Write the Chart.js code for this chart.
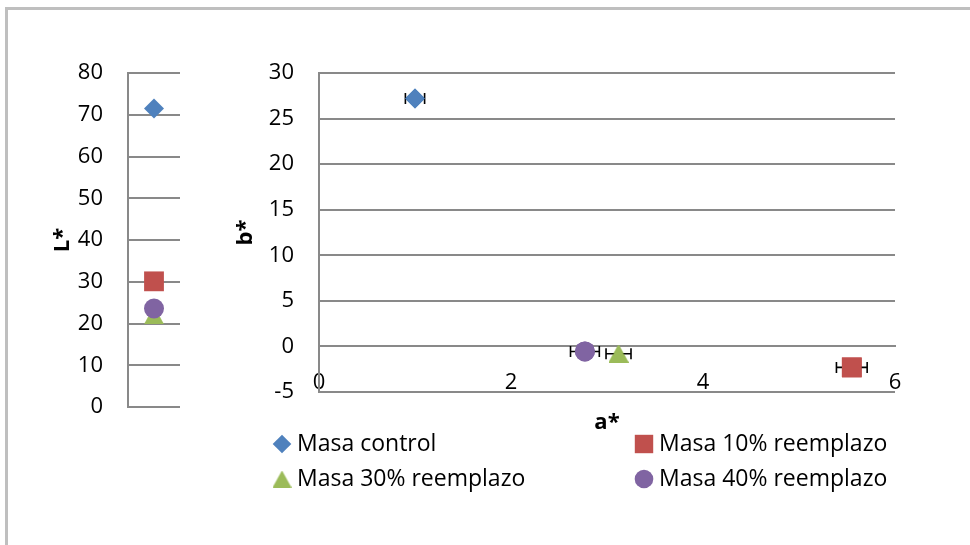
<!DOCTYPE html>
<html>
<head>
<meta charset="utf-8">
<title>Color L*, a*, b*</title>
<script src="https://cdn.jsdelivr.net/npm/chart.js@4"></script>
<style>
  html, body { margin: 0; padding: 0; background: #fff; overflow: hidden; }
  #frame { position: absolute; left: 5px; top: 7px; width: 1000px; height: 600px;
           border-left: 3px solid #bfbfbf; border-top: 3px solid #bfbfbf; }
  #chartL { position: absolute; left: 0; top: 0; }
  #chartAB { position: absolute; left: 200px; top: 0; }
</style>
</head>
<body>
<div id="frame"></div>
<canvas id="chartL" width="200" height="545" style="width:200px;height:545px"></canvas>
<canvas id="chartAB" width="770" height="545" style="width:770px;height:545px"></canvas>
<script>
// Samples
const seriesNames = ['Masa control', 'Masa 10% reemplazo', 'Masa 30% reemplazo', 'Masa 40% reemplazo'];
// Lightness L*
const lValues = [71.5, 30.1, 22.0, 23.6];
// Chromaticity a* (x) and b* (y), with the a* standard deviation
const aValues = [1.0, 5.55, 3.12, 2.77];
const bValues = [27.2, -2.3, -0.8, -0.55];
const aErrors = [0.1, 0.16, 0.13, 0.15];
// Axis ticks
const lTicks = [0, 10, 20, 30, 40, 50, 60, 70, 80];
const bTicks = [-5, 0, 5, 10, 15, 20, 25, 30];
const aTicks = [0, 2, 4, 6];

const FONT = '"Open Sans", "Noto Sans", sans-serif';
const GRID = '#898989';
const COLORS = ['#4f81bd', '#c0504d', '#9bbb59', '#8064a2'];

// Excel-like triangle, centred on its bounding box
function triangleMarker(color, w, h) {
  const c = document.createElement('canvas');
  c.width = w; c.height = h;
  const g = c.getContext('2d');
  g.fillStyle = color;
  g.beginPath();
  g.moveTo(w / 2, 0); g.lineTo(w, h); g.lineTo(0, h);
  g.closePath(); g.fill();
  return c;
}

function markerStyles(scale) {
  return [
    { pointStyle: 'rectRot', radius: 10 * scale },
    { pointStyle: 'rect', radius: 14 * scale },
    { pointStyle: triangleMarker(COLORS[2], Math.round(20 * scale), Math.round(18 * scale)), radius: 10 * scale },
    { pointStyle: 'circle', radius: 10 * scale }
  ];
}

function buildDatasets(points) {
  const m = markerStyles(1);
  return seriesNames.map((name, i) => ({
    label: name,
    data: [points[i]],
    backgroundColor: COLORS[i],
    borderColor: COLORS[i],
    borderWidth: 0,
    pointStyle: m[i].pointStyle,
    pointRadius: m[i].radius,
    pointHoverRadius: m[i].radius,
    showLine: false,
    order: seriesNames.length - 1 - i
  }));
}

function axisTitle(text, pad) {
  return { display: true, text, color: '#000', padding: { top: pad, bottom: 0 },
           font: { family: FONT, size: 22, weight: 'bold' } };
}

function valueAxis(min, max, step, ticks, width, title, titlePad) {
  return {
    type: 'linear', position: 'left', min, max,
    afterBuildTicks: s => { s.ticks = ticks.map(v => ({ value: v })); },
    ticks: { stepSize: step, color: '#000', padding: 25, font: { family: FONT, size: 22 } },
    grid: { color: GRID, lineWidth: 2, drawTicks: false },
    border: { color: GRID, width: 2 },
    title: axisTitle(title, titlePad),
    afterFit: s => { s.width = width; }
  };
}

// Left panel: L*
new Chart(document.getElementById('chartL'), {
  type: 'scatter',
  data: { datasets: buildDatasets(lValues.map(v => ({ x: 1, y: v }))) },
  options: {
    responsive: false, animation: false, events: [],
    layout: { padding: { left: 0, right: 20, top: 73, bottom: 138 } },
    plugins: { legend: { display: false }, tooltip: { enabled: false } },
    scales: {
      x: { type: 'linear', min: 0, max: 2, display: false },
      y: valueAxis(0, 80, 10, lTicks, 128, 'L*', 50)
    }
  }
});

// Horizontal standard-deviation bars on a*
const errorBars = {
  id: 'errorBars',
  afterDatasetsDraw(chart) {
    const { ctx, scales: { x, y } } = chart;
    ctx.save();
    ctx.strokeStyle = '#000';
    ctx.lineWidth = 1.6;
    aValues.forEach((a, i) => {
      const py = y.getPixelForValue(bValues[i]);
      const x0 = x.getPixelForValue(a - aErrors[i]);
      const x1 = x.getPixelForValue(a + aErrors[i]);
      ctx.beginPath();
      ctx.moveTo(x0, py); ctx.lineTo(x1, py);
      ctx.moveTo(x0, py - 5.5); ctx.lineTo(x0, py + 5.5);
      ctx.moveTo(x1, py - 5.5); ctx.lineTo(x1, py + 5.5);
      ctx.stroke();
    });
    ctx.restore();
    // markers go back on top of the bars
    chart.getSortedVisibleDatasetMetas().slice().reverse().forEach(meta => {
      meta.controller.draw();
    });
  }
};

// a* title and two-column legend under the plot
const bottomTexts = {
  id: 'bottomTexts',
  afterDraw(chart) {
    const { ctx, chartArea } = chart;
    ctx.save();
    ctx.fillStyle = '#000';
    ctx.textBaseline = 'middle';
    ctx.textAlign = 'center';
    ctx.font = 'bold 22px ' + FONT;
    ctx.fillText('a*', (chartArea.left + chartArea.right) / 2, 423);

    const cols = [82, 444];
    const rows = [444, 479];
    const m = markerStyles(0.93);
    ctx.font = '23px ' + FONT;
    ctx.textAlign = 'left';
    chart.data.datasets.forEach((ds, i) => {
      const cx = cols[i % 2], cy = rows[Math.floor(i / 2)];
      ctx.fillStyle = ds.backgroundColor;
      Chart.helpers.drawPoint(ctx, { pointStyle: m[i].pointStyle, radius: m[i].radius, borderWidth: 0, rotation: 0 }, cx, cy);
      ctx.fillStyle = '#000';
      ctx.fillText(ds.label, cx + 15, cy);
    });
    ctx.restore();
  }
};

// Right panel: b* versus a*
new Chart(document.getElementById('chartAB'), {
  type: 'scatter',
  data: { datasets: buildDatasets(aValues.map((a, i) => ({ x: a, y: bValues[i] }))) },
  options: {
    responsive: false, animation: false, events: [],
    layout: { padding: { left: 0, right: 75, top: 73, bottom: 153 } },
    plugins: { legend: { display: false }, tooltip: { enabled: false } },
    scales: {
      x: {
        type: 'linear', min: 0, max: 6, position: { y: 0 },
        afterBuildTicks: s => { s.ticks = aTicks.map(v => ({ value: v })); },
        ticks: { color: '#000', padding: 23, maxRotation: 0, font: { family: FONT, size: 22 } },
        grid: { display: true, drawOnChartArea: false, drawTicks: false },
        border: { color: GRID, width: 2 },
        afterFit: s => { s.height = 0; }
      },
      y: valueAxis(-5, 30, 5, bTicks, 119, 'b*', 33)
    }
  },
  plugins: [errorBars, bottomTexts]
});
</script>
</body>
</html>
